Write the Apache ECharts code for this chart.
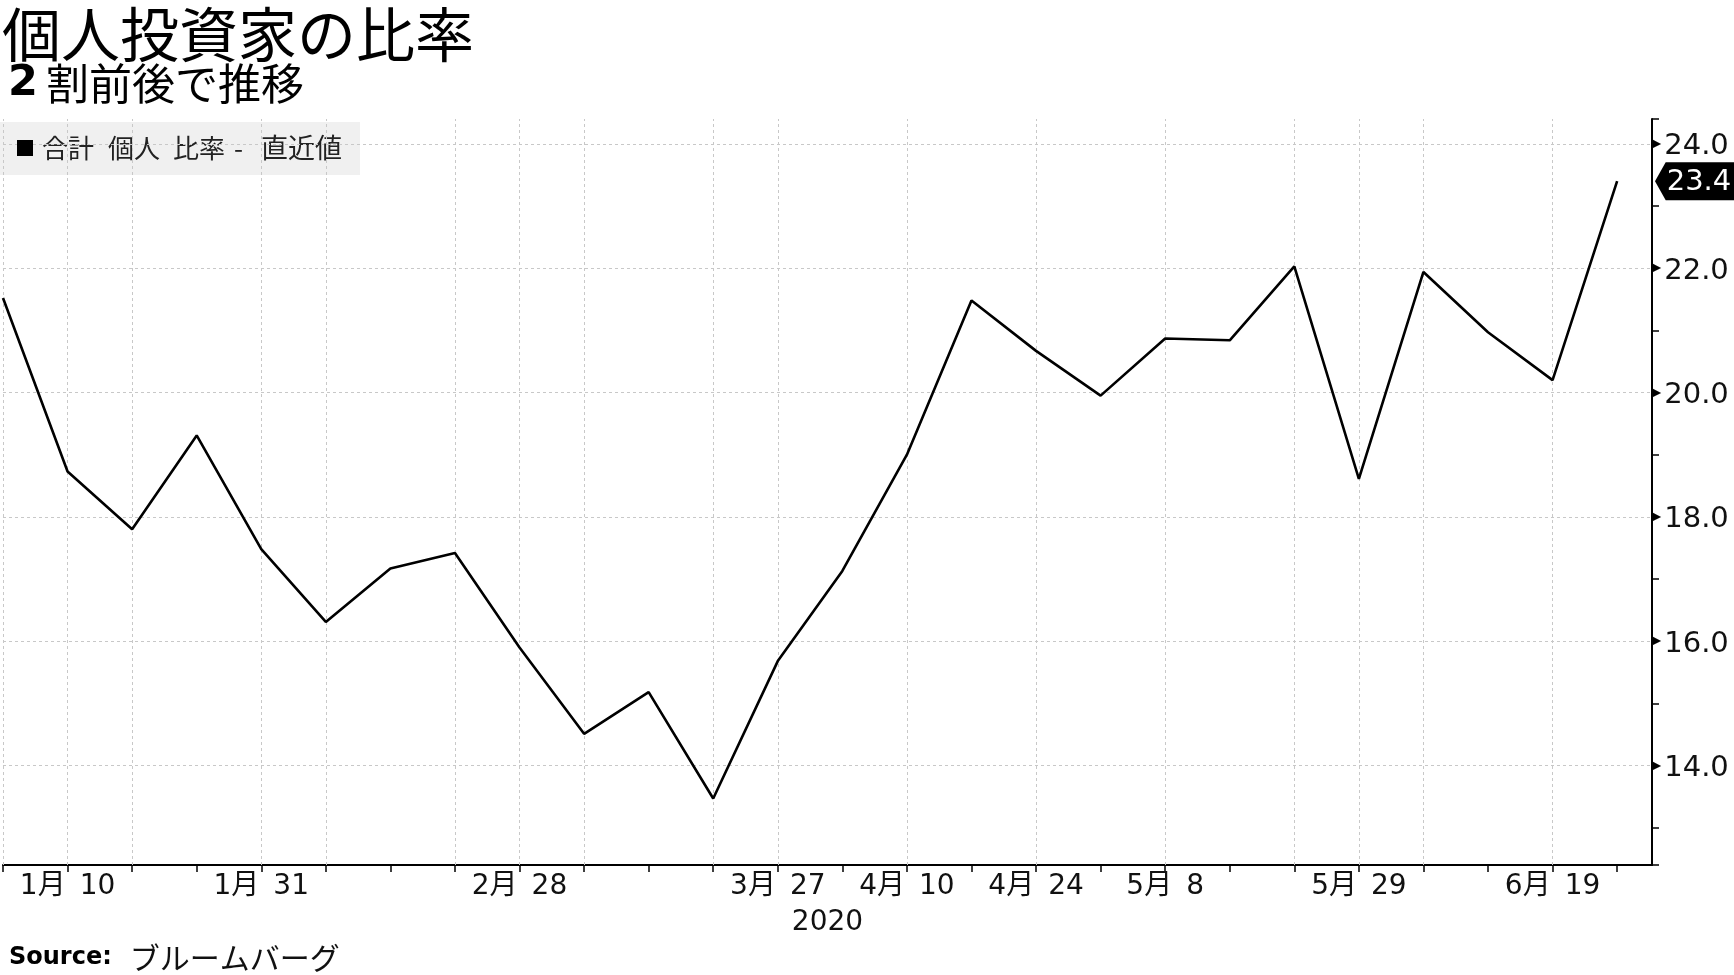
<!DOCTYPE html>
<html><head><meta charset="utf-8">
<script src="https://cdn.jsdelivr.net/npm/echarts@6/dist/echarts.min.js"></script>
<style>html,body{margin:0;padding:0;background:#fff}#c{width:1734px;height:975px}</style>
</head><body><div id="c"></div>
<script>
// Weekly observations (Fridays), 2020
const dates = ['1/3','1/10','1/17','1/24','1/31','2/7','2/14','2/21','2/28','3/6','3/13','3/19','3/27',
  '4/3','4/10','4/17','4/24','5/1','5/8','5/15','5/22','5/29','6/5','6/12','6/19','6/26'];
// 合計 個人 比率 (%)
const ratio = [21.52, 18.73, 17.80, 19.31, 17.48, 16.31, 17.17, 17.42, 15.90, 14.51, 15.18, 13.47, 15.68,
  17.13, 19.00, 21.48, 20.67, 19.95, 20.87, 20.84, 22.03, 18.61, 21.94, 20.97, 20.20, 23.40];
// x-axis tick labels (one per week, blank where unlabeled)
const tickLabels = ['', '1月\u200210', '', '', '1月\u200231', '', '', '', '2月\u200228', '', '', '', '3月\u200227',
  '', '4月\u200210', '', '4月\u200224', '', '5月\u20028', '', '', '5月\u200229', '', '', '6月\u200219', ''];
// weeks that carry a vertical grid line
const gridWeeks = [0, 1, 2, 4, 5, 7, 8, 9, 11, 12, 14, 16, 18, 20, 21, 22, 24];
const yearLabel = '2020';
const yMin = 12.4, yMax = 24.4, xMax = 25.54;

const FONT = '"DejaVu Sans", "Noto Sans CJK JP", sans-serif';
const JP = '"Noto Sans CJK JP", sans-serif';
const last = ratio[ratio.length - 1];

const chart = echarts.init(document.getElementById('c'), null, {renderer: 'canvas'});
chart.setOption({
  animation: false,
  backgroundColor: '#fff',
  grid: {left: 0, right: 82, top: 119, bottom: 110, containLabel: false},
  xAxis: {
    type: 'value', min: 0, max: xMax, interval: 1,
    name: yearLabel, nameLocation: 'middle', nameGap: 44,
    nameTextStyle: {fontFamily: FONT, fontSize: 28, color: '#111'},
    axisLine: {show: true, onZero: false, lineStyle: {color: '#000', width: 2}},
    axisTick: {show: true, length: 7, lineStyle: {color: '#000', width: 1.5}},
    axisLabel: {
      show: true, margin: 8, fontFamily: FONT, fontSize: 28, color: '#111',
      showMaxLabel: false, showMinLabel: true,
      formatter: v => (Math.abs(v - Math.round(v)) < 1e-6 ? (tickLabels[Math.round(v)] || '') : '')
    },
    splitLine: {show: false}
  },
  yAxis: [{
    type: 'value', position: 'right', min: yMin, max: yMax, splitNumber: 6,
    axisLine: {show: true, onZero: false, lineStyle: {color: '#000', width: 2}},
    axisTick: {show: false},
    axisLabel: {
      show: true, margin: 0, color: '#111',
      formatter: v => {
        const r = Math.round(v);
        if (Math.abs(v - r) > 1e-6 || r % 2 !== 0) return '';
        return '{t|▶}{v|' + v.toFixed(1) + '}';
      },
      rich: {
        t: {fontSize: 12, color: '#000', fontFamily: FONT, padding: [0, 3, 0, 0]},
        v: {fontSize: 29, color: '#111', fontFamily: FONT, padding: [6, 0, 0, 0]}
      }
    },
    splitLine: {show: true, showMinLine: false, showMaxLine: false,
      lineStyle: {color: '#c8c8c8', width: 1, type: [3, 3]}}
  }, {
    type: 'value', position: 'right', min: yMin, max: yMax, splitNumber: 12,
    axisLine: {show: false, onZero: false},
    axisTick: {show: true, length: 7, lineStyle: {color: '#000', width: 1.5}},
    axisLabel: {show: false},
    splitLine: {show: false}
  }],
  series: [{
    type: 'line',
    xAxisIndex: 0, yAxisIndex: 0,
    data: ratio.map((v, i) => [i, v]),
    symbol: 'none',
    lineStyle: {color: '#000', width: 2.6},
    z: 3,
    markLine: {
      silent: true, z: 1, symbol: ['none', 'none'],
      label: {show: false},
      lineStyle: {color: '#c8c8c8', width: 1, type: [3, 3]},
      data: gridWeeks.map(i => ({xAxis: i}))
    },
    markPoint: {
      silent: true, z: 6,
      symbol: 'path://M0,19 L12,0 L92,0 L92,38 L12,38 Z',
      symbolSize: [82, 38],
      symbolOffset: [44, 0],
      symbolKeepAspect: false,
      itemStyle: {color: '#000'},
      label: {show: true, position: 'inside', color: '#fff', fontFamily: FONT, fontSize: 29,
        offset: [3, 1], formatter: last.toFixed(1)},
      data: [{coord: [xMax, last], value: last}]
    }
  }],
  graphic: [
    {type: 'text', left: 2, top: 5, style: {text: '個人投資家の比率', font: 'normal 59px ' + JP, fill: '#000'}},
    {type: 'text', left: 8, top: 62, style: {
      text: '{b|2}{n|割前後で推移}',
      rich: {b: {font: 'bold 43px ' + FONT, fill: '#000', padding: [0, 8, 0, 0]}, n: {font: 'normal 43px ' + JP, fill: '#000'}}
    }},
    {type: 'rect', shape: {x: 0, y: 122, width: 360, height: 53}, style: {fill: 'rgba(0,0,0,0.06)'}, z: 0},
    {type: 'rect', shape: {x: 17, y: 140, width: 16, height: 16}, style: {fill: '#000'}, z: 1},
    {type: 'text', x: 42, y: 148, style: {text: '合計', font: 'normal 26px ' + JP, fill: '#222', verticalAlign: 'middle'}},
    {type: 'text', x: 108, y: 148, style: {text: '個人', font: 'normal 26px ' + JP, fill: '#222', verticalAlign: 'middle'}},
    {type: 'text', x: 173, y: 148, style: {text: '比率', font: 'normal 26px ' + JP, fill: '#222', verticalAlign: 'middle'}},
    {type: 'text', x: 234, y: 148, style: {text: '-', font: 'normal 26px ' + JP, fill: '#222', verticalAlign: 'middle'}},
    {type: 'text', x: 261, y: 148, style: {text: '直近値', font: 'normal 27px ' + JP, fill: '#222', verticalAlign: 'middle'}},
    {type: 'text', x: 9, y: 958, style: {
      text: '{b|Source:}{n|ブルームバーグ}', verticalAlign: 'middle',
      rich: {b: {font: 'bold 24px ' + FONT, fill: '#000', padding: [0, 18, 0, 0]}, n: {font: 'normal 30px ' + JP, fill: '#111'}}
    }}
  ]
});
</script>
</body></html>
